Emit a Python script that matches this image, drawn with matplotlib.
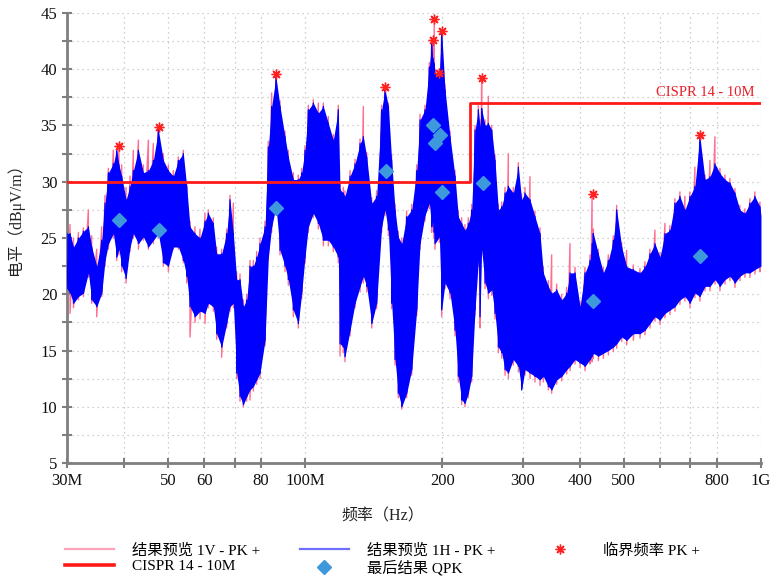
import matplotlib
matplotlib.use('Agg')
import matplotlib.pyplot as plt
import numpy as np
from matplotlib.lines import Line2D
from matplotlib.ticker import FixedLocator, NullLocator, MultipleLocator

plt.rcParams['font.family'] = ['Liberation Serif', 'Noto Sans CJK SC']

# ---- data (MHz, dBuV/m) ----
freq = [30.0, 30.46, 31.0, 31.78, 32.59, 33.42, 33.99, 34.86, 35.75, 36.36, 36.98, 37.92, 38.57, 39.0,
        39.55, 40.43, 41.25, 41.95, 43.03, 44.13, 45.26, 46.41, 47.6, 48.82, 50.06, 51.35, 52.66, 54.0,
        54.92, 55.85, 57.28, 58.74, 60.25, 61.27, 62.84, 63.91, 65.54, 67.22, 68.36, 69.52, 70.71, 71.91,
        73.13, 74.37, 75.63, 76.92, 78.23, 79.55, 81.59, 82.97, 84.38, 86.25, 88.01, 90.26, 91.79, 94.14,
        96.55, 98.19, 99.86, 101.55, 104.15, 106.81, 109.55, 112.35, 115.22, 118.16, 119.2, 121.19, 122.2,
        125.4, 128.6, 131.9, 134.1, 136.4, 139.9, 143.4, 147.1, 149.6, 152.2, 154.7, 157.4, 160.0, 162.8,
        166.9, 171.2, 175.6, 178.6, 183.1, 187.2, 189.4, 190.4, 191.9, 192.6, 196.9, 199.2, 202.6, 207.8,
        213.1, 216.7, 220.4, 224.1, 227.9, 231.8, 235.8, 239.8, 241.8, 243.8, 248.0, 252.2, 256.5, 260.8,
        265.3, 269.8, 274.4, 279.0, 286.1, 293.5, 298.4, 303.5, 311.3, 319.2, 327.4, 333.0, 341.5, 347.3,
        356.2, 365.3, 374.7, 381.0, 390.8, 400.8, 411.0, 421.5, 426.0, 428.7, 439.7, 450.9, 462.4, 474.3,
        482.3, 494.7, 507.3, 524.7, 542.7, 556.5, 570.7, 585.3, 600.3, 615.6, 631.4, 647.5, 664.0, 681.0,
        698.4, 716.2, 734.5, 753.6, 772.9, 792.5, 812.8, 833.6, 854.9, 876.7, 899.1, 922.1, 945.6, 969.8,
        994.6, 1000.0]

h_top = [25.4, 25.4, 24.2, 25.0, 25.6, 26.0, 24.2, 22.5, 24.8, 28.1, 30.8, 31.6, 32.8, 31.5,
         30.5, 28.4, 29.6, 31.0, 32.8, 30.8, 31.0, 31.9, 34.6, 31.9, 31.0, 30.5, 31.9, 32.5,
         29.6, 26.0, 25.4, 25.0, 26.5, 27.2, 26.3, 23.6, 23.6, 25.4, 28.4, 25.4, 21.3, 21.3,
         18.9, 19.5, 22.5, 22.5, 23.3, 24.5, 26.0, 33.1, 36.7, 39.3, 36.7, 34.0, 32.2, 30.2,
         30.2, 30.8, 32.8, 36.4, 37.0, 36.1, 36.7, 35.2, 33.7, 36.4, 29.3, 29.0, 28.7,
         30.5, 31.6, 33.4, 34.0, 32.2, 28.1, 28.7, 36.4, 38.2, 36.7, 31.9, 27.5, 25.1, 24.5,
         26.9, 27.5, 31.0, 35.5, 36.4, 40.2, 42.3, 41.0, 40.5, 39.6, 39.6, 43.4, 38.2, 34.0,
         30.5, 26.9, 26.3, 25.7, 26.3, 27.5, 34.6, 36.4, 34.9, 36.5, 35.0, 35.2, 34.6, 31.9,
         27.5, 27.8, 29.0, 29.6, 29.0, 31.3, 28.4, 29.0, 28.4, 26.9, 25.4, 21.9, 20.7, 20.1,
         20.4, 19.5, 20.1, 21.9, 21.9, 18.9, 21.9, 23.0, 24.5, 25.4, 23.6, 21.9, 23.0, 24.8,
         27.5, 24.2, 22.45, 22.2, 21.9, 22.45, 23.6, 24.5, 23.3, 25.4, 25.7, 28.1, 28.7, 27.5,
         28.7, 29.6, 34.0, 30.2, 30.45, 31.6, 30.75, 30.2, 29.9, 29.0, 27.5, 27.2, 28.1, 28.7,
         27.8, 27.0]

h_bot = [20.5, 20.1, 19.2, 19.8, 20.1, 21.9, 19.5, 18.9, 20.1, 23.0, 24.5, 25.4, 23.3, 24.0,
         22.5, 21.4, 24.2, 25.4, 24.5, 25.1, 24.2, 24.8, 25.4, 22.8, 22.5, 24.2, 24.2, 23.0,
         21.6, 18.9, 18.0, 18.5, 18.3, 19.2, 18.9, 16.5, 15.3, 17.4, 18.9, 19.2, 13.0, 10.9,
         10.2, 10.9, 11.5, 11.8, 12.4, 13.0, 15.9, 23.3, 26.0, 27.8, 23.9, 22.5, 21.3, 18.6,
         17.4, 20.1, 23.3, 26.0, 27.2, 26.3, 24.8, 24.8, 24.2, 23.3, 15.6, 15.3, 14.45,
         16.8, 19.2, 20.7, 21.6, 20.7, 17.4, 19.2, 26.0, 27.5, 25.7, 19.2, 14.2, 11.2, 10.0,
         11.2, 13.3, 18.6, 24.5, 27.0, 28.1, 26.0, 26.5, 25.5, 24.5, 25.1, 18.6, 21.0, 20.1,
         16.8, 12.7, 10.6, 10.3, 11.2, 12.7, 18.6, 23.0, 18.0, 24.0, 21.0, 20.1, 20.4, 18.3,
         15.3, 14.8, 13.3, 13.0, 14.2, 13.6, 11.5, 13.3, 13.0, 12.7, 12.4, 12.7, 11.8, 11.5,
         12.4, 12.7, 13.3, 13.6, 14.2, 13.9, 13.6, 14.2, 14.5, 14.75, 14.5, 14.75, 15.0, 15.3,
         15.6, 16.2, 15.9, 16.5, 16.5, 16.8, 17.4, 18.0, 17.7, 18.3, 18.6, 18.9, 19.5, 19.8,
         19.2, 20.1, 19.8, 20.7, 20.7, 21.3, 20.7, 21.3, 21.6, 21.0, 21.6, 21.9, 21.9, 22.2,
         22.45, 22.5]

v_top = [26.2, 26.2, 25.0, 25.5, 25.9, 27.5, 25.2, 24.0, 26.0, 28.8, 31.2, 32.8, 33.0, 33.1,
         31.5, 29.5, 30.5, 32.8, 33.7, 31.5, 33.7, 33.4, 34.8, 32.5, 31.5, 31.0, 32.2, 32.8,
         30.0, 26.5, 26.0, 25.8, 27.2, 27.5, 26.8, 24.2, 24.0, 25.8, 28.8, 28.1, 22.0, 21.8,
         19.5, 20.0, 23.0, 23.0, 23.8, 25.0, 26.5, 33.6, 37.9, 39.5, 37.2, 34.5, 32.8, 30.8,
         30.6, 31.2, 33.2, 36.8, 37.3, 37.0, 37.0, 35.8, 34.2, 36.8, 30.0, 29.5, 29.2,
         31.0, 32.0, 33.8, 36.7, 32.6, 28.6, 29.2, 36.8, 38.45, 37.0, 32.4, 28.0, 25.6, 25.0,
         27.4, 28.0, 31.5, 36.0, 36.8, 40.6, 42.5, 42.6, 44.4, 40.0, 39.6, 43.0, 38.6, 34.5,
         31.0, 27.4, 26.8, 26.2, 26.8, 28.0, 35.0, 36.8, 35.5, 39.2, 35.5, 37.6, 35.0, 32.4,
         28.0, 28.2, 29.5, 32.5, 29.5, 31.7, 28.9, 29.5, 30.45, 27.4, 25.9, 22.45, 21.2, 23.5,
         20.9, 20.0, 20.6, 24.5, 22.4, 19.4, 22.4, 23.5, 28.9, 25.8, 24.0, 22.4, 23.5, 25.2,
         27.9, 24.6, 23.9, 22.6, 22.3, 22.9, 24.0, 25.7, 23.7, 26.3, 26.1, 28.5, 29.1, 28.7,
         29.1, 31.3, 33.0, 30.6, 31.9, 34.0, 31.2, 30.6, 30.3, 29.4, 27.9, 27.6, 28.5, 29.1,
         28.2, 27.5]

v_bot = [19.0, 18.3, 18.8, 19.5, 19.8, 21.5, 19.2, 18.0, 19.8, 22.5, 24.0, 25.0, 23.0, 23.5,
         22.0, 21.0, 23.8, 25.0, 24.0, 24.8, 24.0, 24.5, 25.0, 22.5, 22.0, 24.0, 24.0, 22.8,
         21.0, 16.2, 17.5, 17.8, 17.4, 18.8, 18.5, 16.0, 14.4, 17.0, 18.5, 18.8, 12.5, 10.5,
         10.0, 10.5, 10.6, 11.4, 12.0, 12.5, 15.4, 23.0, 25.5, 27.3, 23.5, 22.0, 20.8, 18.0,
         17.0, 19.6, 22.8, 25.5, 26.8, 25.8, 24.3, 24.3, 23.8, 22.8, 14.5, 14.8, 14.0,
         16.3, 18.8, 20.2, 21.0, 20.2, 17.0, 18.7, 25.5, 27.0, 25.2, 18.7, 13.7, 10.8, 9.8,
         10.8, 12.8, 18.1, 24.0, 26.5, 27.6, 25.5, 26.0, 25.0, 24.0, 24.6, 18.0, 20.5, 19.6,
         16.3, 12.2, 10.2, 10.0, 10.8, 12.2, 18.1, 22.5, 17.0, 23.5, 20.5, 19.6, 19.9, 17.8,
         14.8, 14.3, 12.8, 12.5, 13.7, 13.1, 11.8, 12.8, 12.5, 12.2, 11.9, 12.2, 11.5, 11.2,
         12.0, 12.3, 12.9, 13.2, 13.8, 13.5, 13.2, 13.8, 14.0, 14.3, 14.1, 14.3, 14.6, 14.9,
         15.2, 15.8, 15.5, 15.9, 16.1, 16.4, 17.0, 17.6, 17.3, 17.9, 18.2, 18.5, 19.1, 19.4,
         18.8, 19.7, 19.4, 20.3, 20.3, 20.9, 20.3, 20.9, 21.2, 20.6, 21.2, 21.5, 21.5, 21.8,
         22.0, 22.2]

crit_f = [39.0, 47.8, 86.1, 149.8, 190.4, 191.9, 196.8, 199.2, 244.6, 427.3, 735.0]
crit_v = [33.2, 34.84, 39.55, 38.45, 42.63, 44.44, 39.64, 43.43, 39.25, 28.91, 34.16]

qpk_f = [39.07, 47.83, 86.2, 150.1, 190.7, 192.6, 197.5, 199.5, 245.5, 427.3, 735.9]
qpk_v = [26.57, 25.74, 27.69, 30.98, 35.02, 33.47, 34.18, 29.06, 29.92, 19.43, 23.43]

lim_f = [30, 230, 230, 1000]
lim_v = [30, 30, 37, 37]

x_ticks = [30, 40, 50, 60, 70, 80, 100, 200, 300, 400, 500, 600, 700, 800, 1000]
x_labels = ['30M', '', '50', '60', '', '80', '100M', '200', '300', '400', '500', '', '', '800', '1G']
y_ticks = [5, 10, 15, 20, 25, 30, 35, 40, 45]

# ---- figure ----
fig = plt.figure(figsize=(7.72, 5.80), dpi=100)
ax = fig.add_axes([0.0868, 0.2017, 0.8989, 0.7759])
ax.set_xscale('log')
ax.set_xlim(30, 1000)
ax.set_ylim(5, 45)

def zigzag(f, top, bot):
    xs = np.repeat(np.asarray(f, float), 2)
    ys = np.column_stack([np.asarray(top, float), np.asarray(bot, float)]).ravel()
    return xs, ys

pink = '#ff6f92'
blue = '#0000ff'
xs, ys = zigzag(freq, v_top, v_bot)
ax.plot(xs, ys, color=pink, lw=1.0, zorder=2)
ax.fill_between(freq, h_bot, h_top, color=blue, lw=0, zorder=3)
xs, ys = zigzag(freq, h_top, h_bot)
ax.plot(xs, ys, color=blue, lw=0.9, zorder=3)

ax.plot(lim_f, lim_v, color='#ff1a1a', lw=2.0, zorder=4)
ax.text(970, 37.35, 'CISPR 14 - 10M', ha='right', va='bottom', color='#e8202a', fontsize=10.5, zorder=5)

ax.plot(crit_f, crit_v, linestyle='none', marker=(8, 2, 0), ms=7, mew=1.0, color='#ff2020', zorder=6)
ax.plot(qpk_f, qpk_v, linestyle='none', marker='D', ms=7, color='#3d98dc', mec='#3d98dc', zorder=6)

# axes styling
ax.xaxis.set_major_locator(FixedLocator(x_ticks))
ax.set_xticklabels(x_labels)
ax.xaxis.set_minor_locator(NullLocator())
ax.yaxis.set_major_locator(FixedLocator(y_ticks))
ax.yaxis.set_minor_locator(MultipleLocator(2.5))
ax.tick_params(which='both', direction='inout', length=7, width=1.5, color='#7f7f7f',
               labelsize=12, labelcolor='#111111')
ax.tick_params(axis='x', pad=4)
ax.grid(True, which='both', axis='y', linestyle=(0, (1, 3)), color='#c0c0c0', lw=0.9)
ax.grid(True, which='major', axis='x', linestyle=(0, (1, 3)), color='#c0c0c0', lw=0.9)
ax.set_axisbelow(True)
for s in ['top', 'right']:
    ax.spines[s].set_visible(False)
for s in ['left', 'bottom']:
    ax.spines[s].set_color('#7f7f7f')
    ax.spines[s].set_linewidth(2)

ax.set_ylabel('电平（dBμV/m）', fontsize=11.5, color='#222222')
ax.yaxis.set_label_coords(-0.062, 0.55)
ax.set_xlabel('频率（Hz）', fontsize=11.5, color='#222222')
ax.xaxis.set_label_coords(0.455, -0.1)

handles = [
    Line2D([], [], color='#ffa3b8', lw=1.6),
    Line2D([], [], color='#ff1a1a', lw=2.6),
    Line2D([], [], color='#6f6fff', lw=1.6),
    Line2D([], [], linestyle='none', marker='D', ms=7, color='#3d98dc'),
    Line2D([], [], linestyle='none', marker=(8, 2, 0), ms=7, mew=1.0, color='#ff2020'),
]
labels = ['结果预览 1V - PK +', 'CISPR 14 - 10M', '结果预览 1H - PK +', '最后结果 QPK', '临界频率 PK +']
fig.legend(handles, labels, ncol=3, loc='center', bbox_to_anchor=(0.495, 0.036), frameon=False,
           fontsize=11, handlelength=3.2, handletextpad=1.2, columnspacing=2.6,
           labelspacing=0.15, borderaxespad=0)

fig.savefig('out.png', dpi=100)
